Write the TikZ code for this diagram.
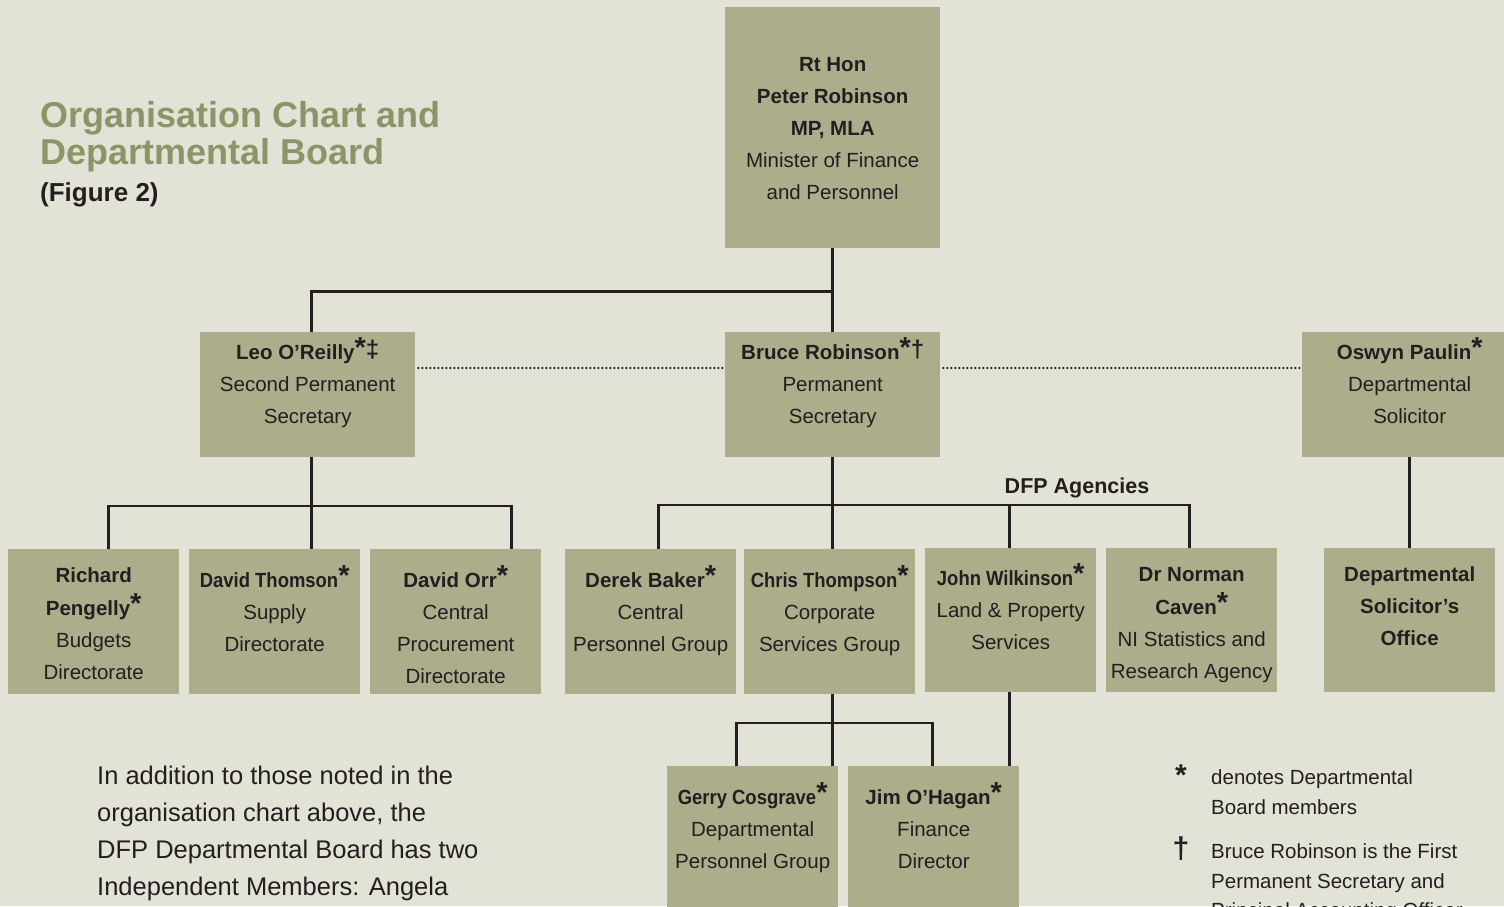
\documentclass[tikz,border=0pt]{standalone}
\usepackage{fontspec}
\setmainfont{Liberation Sans}
\usepackage{graphicx}
\usetikzlibrary{positioning}
\definecolor{paper}{HTML}{E2E2D6}
\definecolor{boxfill}{HTML}{ABAD8B}
\definecolor{heading}{HTML}{8F9368}
\definecolor{ink}{HTML}{231F20}
\newcommand{\nm}[1]{\textbf{#1}}
\newcommand{\nmn}[1]{\scalebox{0.9}[1]{\textbf{#1}}}
\newcommand{\bst}{\raisebox{2.5pt}{\fontsize{29}{29}\selectfont\bfseries *}}
\newcommand{\bdag}{\raisebox{2pt}{\fontsize{24}{24}\selectfont\bfseries †}}
\newcommand{\bddag}{\raisebox{2pt}{\fontsize{24}{24}\selectfont\bfseries ‡}}
\begin{document}
\begin{tikzpicture}[x=1pt, y=-1pt, text=ink, font=\fontsize{20.5}{32}\selectfont,
  box/.style={fill=boxfill, inner sep=0pt, anchor=north west, minimum width=171, minimum height=145},
  wide/.style={box, minimum width=215, minimum height=125},
  txt/.style={anchor=north, align=center, inner sep=0pt},
  link/.style={draw=ink, line width=2.6pt},
  dots/.style={draw=ink, line width=2.4pt, dash pattern=on 0pt off 4pt, line cap=round}]
\useasboundingbox (0,0) rectangle (1504,906);
\fill[paper] (0,0) rectangle (1504,906);

% Heading
\node[anchor=north west, align=left, inner sep=0pt, text=heading, font=\fontsize{36}{35}\selectfont\bfseries] (title) at (40,101) {\strut Organisation Chart and\\Departmental Board};
\node[anchor=west, inner sep=0pt, font=\fontsize{26}{30}\selectfont\bfseries] (figno) at (40,195) {(Figure 2)};

% Minister and permanent secretaries
\node[box, minimum width=215, minimum height=241, label={[txt, yshift=-42pt]north:{\strut\nm{Rt Hon}\\\nm{Peter Robinson}\\\nm{MP, MLA}\\Minister of Finance\\and Personnel}}] (minister) at (725,7) {};
\node[wide, label={[txt, yshift=-5pt]north:{\strut\nm{Leo O’Reilly}\bst\bddag\\Second Permanent\\Secretary}}] (leo) at (200,332) {};
\node[wide, label={[txt, yshift=-5pt]north:{\strut\nm{Bruce Robinson}\bst\bdag\\Permanent\\Secretary}}] (bruce) at (725,332) {};
\node[wide, label={[txt, yshift=-5pt]north:{\strut\nm{Oswyn Paulin}\bst\\Departmental\\Solicitor}}] (paulin) at (1302,332) {};

% Directorates, groups and agencies
\node[box, label={[txt, yshift=-11pt]north:{\strut\nm{Richard}\\\nm{Pengelly}\bst\\Budgets\\Directorate}}] (pengelly) at (8,549) {};
\node[box, label={[txt, yshift=-16pt]north:{\strut\nmn{David Thomson}\bst\\Supply\\Directorate}}] (thomson) at (189,549) {};
\node[box, label={[txt, yshift=-16pt]north:{\strut\nm{David Orr}\bst\\Central\\Procurement\\Directorate}}] (orr) at (370,549) {};
\node[box, label={[txt, yshift=-16pt]north:{\strut\nm{Derek Baker}\bst\\Central\\Personnel Group}}] (baker) at (565,549) {};
\node[box, label={[txt, yshift=-16pt]north:{\strut\nmn{Chris Thompson}\bst\\Corporate\\Services Group}}] (thompson) at (744,549) {};
\node[box, minimum height=144, label={[txt, yshift=-15pt]north:{\strut\nmn{John Wilkinson}\bst\\Land \& Property\\Services}}] (wilkinson) at (925,548) {};
\node[box, minimum height=144, label={[txt, yshift=-11pt]north:{\strut\nm{Dr Norman}\\\nm{Caven}\bst\\NI Statistics and\\Research Agency}}] (caven) at (1106,548) {};
\node[box, minimum height=144, label={[txt, yshift=-11pt]north:{\strut\nm{Departmental}\\\nm{Solicitor’s}\\\nm{Office}}}] (solicitor) at (1324,548) {};
\node[box, label={[txt, yshift=-16pt]north:{\strut\nmn{Gerry Cosgrave}\bst\\Departmental\\Personnel Group}}] (gerry) at (667,766) {};
\node[box, label={[txt, yshift=-16pt]north:{\strut\nm{Jim O’Hagan}\bst\\Finance\\Director}}] (jim) at (848,766) {};
\node[font=\fontsize{21.5}{24}\selectfont\bfseries] (agencies) at (1077,488) {DFP Agencies};

% Reporting lines
\draw[link] (minister.south) -- (bruce.north);
\draw[link] ([xshift=3.5pt]leo.north) |- ([yshift=-43pt]minister.south);
\draw[dots] ([yshift=-36pt,xshift=3pt]leo.north east) -- ([yshift=-36pt]bruce.north west);
\draw[dots] ([yshift=-36pt,xshift=3pt]bruce.north east) -- ([yshift=-36pt]paulin.north west);
\draw[link] ([xshift=3.5pt]leo.south) -- ++(0,92);
\draw[link] ([xshift=14.5pt]pengelly.north) -- ++(0,-43) -| ([xshift=55.5pt]orr.north);
\draw[link] (bruce.south) -- (thompson.north -| bruce.south);
\draw[link] ([xshift=8pt]baker.north) -- ++(0,-44) -| ([xshift=-2.5pt]caven.north);
\draw[link] ([xshift=-1.5pt]wilkinson.north) -- ++(0,-43);
\draw[link] (paulin.south) -- (solicitor.north);
\draw[link] ([xshift=2.5pt]thompson.south) -- ++(0,72);
\draw[link] ([xshift=-16.5pt]gerry.north) -- ++(0,-43) -| ([xshift=-1.5pt]jim.north);
\draw[link] ([xshift=-1.5pt]wilkinson.south) -- ++(0,74);

% Notes
\node[anchor=north west, align=left, inner sep=0pt, font=\fontsize{25.5}{37}\selectfont] (extra) at (97,758) {\strut In addition to those noted in the\\organisation chart above, the\\DFP Departmental Board has two\\Independent Members: Angela};
\node[anchor=base, inner sep=0pt, font=\fontsize{30}{30}\selectfont\bfseries] (keystar) at (1181,785) {*};
\node[inner sep=0pt, font=\fontsize{30}{30}\selectfont\bfseries] (keydag) at (1181,849) {†};
\node[anchor=north west, align=left, inner sep=0pt, font=\fontsize{20.5}{29.5}\selectfont] (startext) at (1211,764) {\strut denotes Departmental\\Board members};
\node[anchor=north west, align=left, inner sep=0pt, font=\fontsize{20.5}{29.5}\selectfont] (dagtext) at (1211,838) {\strut Bruce Robinson is the First\\Permanent Secretary and\\Principal Accounting Officer};
\end{tikzpicture}
\end{document}
